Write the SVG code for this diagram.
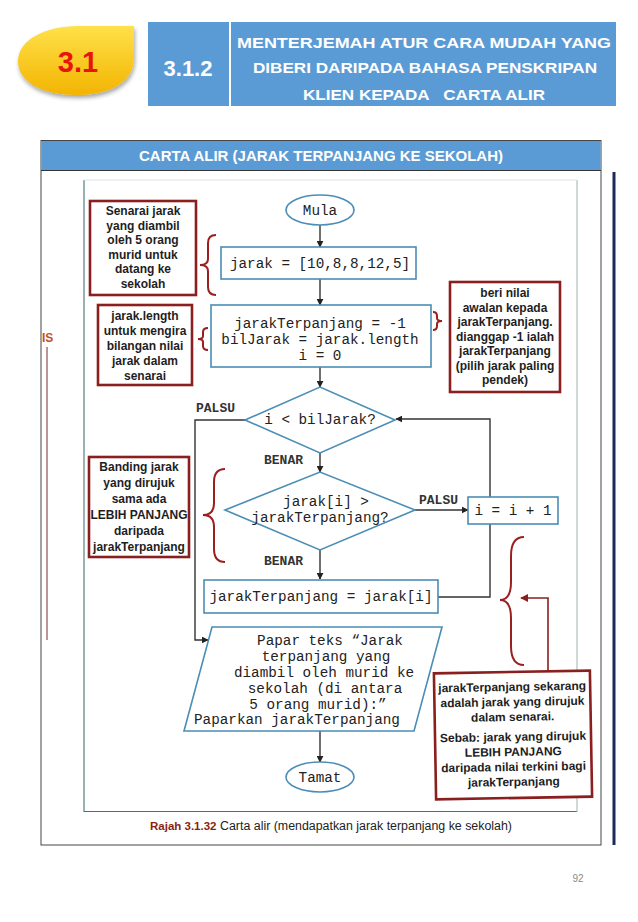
<svg xmlns="http://www.w3.org/2000/svg" width="638" height="922" viewBox="0 0 638 922">
<defs>
<marker id="ah" viewBox="0 0 10 10" refX="9" refY="5" markerWidth="7" markerHeight="7" orient="auto" markerUnits="userSpaceOnUse">
<path d="M0,0 L10,5 L0,10 Z" fill="#222"/>
</marker>
<marker id="ahr" viewBox="0 0 10 10" refX="9" refY="5" markerWidth="8" markerHeight="8" orient="auto" markerUnits="userSpaceOnUse">
<path d="M0,0 L10,5 L0,10 Z" fill="#8a1f1f"/>
</marker>
<linearGradient id="gold" x1="0" y1="0" x2="0" y2="1">
<stop offset="0" stop-color="#ffe14a"/>
<stop offset="1" stop-color="#f3b400"/>
</linearGradient>
<filter id="sh" x="-20%" y="-20%" width="140%" height="150%">
<feDropShadow dx="1" dy="3" stdDeviation="2" flood-color="#000" flood-opacity="0.35"/>
</filter>
</defs>
<style>
.hdr{font-family:"Liberation Sans",Arial,sans-serif;font-weight:bold;fill:#fff;text-anchor:middle}
.shape{fill:#fff;stroke:#4a8db5;stroke-width:1.6}
.code{font-family:"Liberation Mono","Courier New",monospace;font-size:14.3px;fill:#222;text-anchor:middle}
.lbl{font-family:"Liberation Mono","Courier New",monospace;font-size:13px;font-weight:bold;fill:#333}
.conn{fill:none;stroke:#333;stroke-width:1.4}
.note{fill:#fff;stroke:#8a1f1f;stroke-width:2.6}
.nt{font-family:"Liberation Sans",Arial,sans-serif;font-size:12px;font-weight:bold;fill:#1e1e1e;text-anchor:middle}
.brace{fill:none;stroke:#9b1f1f;stroke-width:2}
</style>
<rect width="638" height="922" fill="#fff"/>

<!-- page header -->
<g id="badge">
<path d="M134,26 L134,58 C134,82 110,95 77,95 C42,95 18,82 18,61 C18,40 45,26 78,26 Z" fill="url(#gold)" filter="url(#sh)"/>
<text x="78" y="72" font-family="Liberation Sans,Arial,sans-serif" font-weight="bold" font-size="29" fill="#e8140c" text-anchor="middle">3.1</text>
</g>
<g id="section-no">
<rect x="148" y="22" width="81" height="84" fill="#5b9bd5"/>
<text class="hdr" x="188" y="76" font-size="22">3.1.2</text>
</g>
<g id="section-title">
<rect x="231" y="22" width="385" height="84" fill="#5b9bd5"/>
<text class="hdr" x="424" y="48" font-size="15.5" textLength="374" lengthAdjust="spacingAndGlyphs">MENTERJEMAH ATUR CARA MUDAH YANG</text>
<text class="hdr" x="425" y="73" font-size="15.5" textLength="344" lengthAdjust="spacingAndGlyphs">DIBERI DARIPADA BAHASA PENSKRIPAN</text>
<text class="hdr" x="424" y="100" font-size="15.5" textLength="242" lengthAdjust="spacingAndGlyphs" xml:space="preserve">KLIEN KEPADA   CARTA ALIR</text>
</g>

<!-- panel -->
<g id="panel">
<rect x="41" y="140.5" width="560" height="704.5" fill="#fff" stroke="#444" stroke-width="1"/>
<rect x="41.5" y="141" width="559" height="29" fill="#5b9bd5"/>
<line x1="41" y1="170.5" x2="601" y2="170.5" stroke="#333" stroke-width="1"/>
<text class="hdr" x="321" y="161" font-size="14" textLength="364" lengthAdjust="spacingAndGlyphs">CARTA ALIR (JARAK TERPANJANG KE SEKOLAH)</text>
<!-- scanned page frame -->
<line x1="84" y1="180" x2="84" y2="812" stroke="#587f7f" stroke-width="1.2"/>
<line x1="84" y1="811.5" x2="577" y2="811.5" stroke="#4f6f6a" stroke-width="1.2"/>
<line x1="577" y1="180" x2="577" y2="812" stroke="#9cb3b0" stroke-width="1"/>
<line x1="84" y1="180" x2="577" y2="180" stroke="#dde3e3" stroke-width="1"/>
<line x1="614" y1="172" x2="614" y2="845" stroke="#1d2a5a" stroke-width="3"/>
<text x="42" y="342" font-family="Liberation Sans,Arial,sans-serif" font-weight="bold" font-size="12" fill="#c4501c">IS</text>
<line x1="47" y1="347" x2="47" y2="640" stroke="#7a2a2a" stroke-width="1"/>
<text x="150" y="830" font-family="Liberation Sans,Arial,sans-serif" font-size="11.5" font-weight="bold" fill="#8a1f10">Rajah 3.1.32</text>
<text x="220" y="830" font-family="Liberation Sans,Arial,sans-serif" font-size="12" fill="#222" textLength="292" lengthAdjust="spacingAndGlyphs">Carta alir (mendapatkan jarak terpanjang ke sekolah)</text>
</g>
<text x="578" y="882" font-family="Liberation Sans,Arial,sans-serif" font-size="10" fill="#8a8a8a" text-anchor="middle">92</text>

<!-- connectors -->
<g id="connectors">
<line class="conn" x1="320" y1="224" x2="320" y2="247" marker-end="url(#ah)"/>
<line class="conn" x1="320" y1="279" x2="320" y2="305" marker-end="url(#ah)"/>
<line class="conn" x1="320" y1="367" x2="320" y2="387" marker-end="url(#ah)"/>
<line class="conn" x1="320" y1="453" x2="320" y2="472" marker-end="url(#ah)"/>
<line class="conn" x1="320" y1="550" x2="320" y2="579" marker-end="url(#ah)"/>
<line class="conn" x1="320" y1="731" x2="320" y2="762" marker-end="url(#ah)"/>
<line class="conn" x1="415" y1="510" x2="468" y2="510" marker-end="url(#ah)"/>
<polyline class="conn" points="245,420 195,420 195,640 208,640" marker-end="url(#ah)"/>
<polyline class="conn" points="490,497 490,419 396,419" marker-end="url(#ah)"/>
<polyline class="conn" points="438,597 490,597 490,524"/>
<text class="lbl" x="196" y="412">PALSU</text>
<text class="lbl" x="264" y="464">BENAR</text>
<text class="lbl" x="419" y="504">PALSU</text>
<text class="lbl" x="264" y="565">BENAR</text>
<polyline points="548,672 548,598 521,598" fill="none" stroke="#8a1f1f" stroke-width="1.6" marker-end="url(#ahr)"/>
</g>

<!-- flowchart nodes -->
<g id="mula">
<ellipse class="shape" cx="320" cy="210" rx="34" ry="15"/>
<text class="code" x="320" y="215">Mula</text>
</g>
<g id="init-list">
<rect class="shape" x="221" y="247" width="195" height="32"/>
<text class="code" x="320" y="268">jarak = [10,8,8,12,5]</text>
</g>
<g id="init-vars">
<rect class="shape" x="211" y="305" width="220" height="62"/>
<text class="code" x="320" y="328">jarakTerpanjang = -1</text>
<text class="code" x="320" y="344">bilJarak = jarak.length</text>
<text class="code" x="320" y="360">i = 0</text>
</g>
<g id="cond-loop">
<polygon class="shape" points="245,420 320,387 395,420 320,453"/>
<text class="code" x="320" y="424">i &lt; bilJarak?</text>
</g>
<g id="cond-compare">
<polygon class="shape" points="225,510 320,472 415,510 320,550"/>
<text class="code" x="326" y="506">jarak[i] &gt;</text>
<text class="code" x="320" y="522">jarakTerpanjang?</text>
</g>
<g id="increment">
<rect class="shape" x="468" y="497" width="90" height="27"/>
<text class="code" x="513" y="515">i = i + 1</text>
</g>
<g id="update">
<rect class="shape" x="204" y="580" width="234" height="33"/>
<text class="code" x="321" y="601">jarakTerpanjang = jarak[i]</text>
</g>
<g id="output">
<polygon class="shape" points="212,627 442,627 414,731 184,731"/>
<text class="code" x="330" y="645">Papar teks “Jarak</text>
<text class="code" x="326" y="661">terpanjang yang</text>
<text class="code" x="324" y="677">diambil oleh murid ke</text>
<text class="code" x="325" y="693">sekolah (di antara</text>
<text class="code" x="318" y="709">5 orang murid):”</text>
<text class="code" x="297" y="724">Paparkan jarakTerpanjang</text>
</g>
<g id="tamat">
<ellipse class="shape" cx="320" cy="777" rx="34" ry="15"/>
<text class="code" x="320" y="782">Tamat</text>
</g>

<!-- annotations -->
<g id="note-list">
<rect class="note" x="90" y="201" width="106" height="94"/>
<text class="nt" x="143" y="215">Senarai jarak</text>
<text class="nt" x="143" y="229.5">yang diambil</text>
<text class="nt" x="143" y="244">oleh 5 orang</text>
<text class="nt" x="143" y="258.5">murid untuk</text>
<text class="nt" x="143" y="273">datang ke</text>
<text class="nt" x="143" y="287.5">sekolah</text>
<path class="brace" d="M216,235 Q208,235 208,243 L208,259 Q208,265 200,265 Q208,265 208,271 L208,287 Q208,295 216,295"/>
</g>
<g id="note-length">
<rect class="note" x="98" y="305" width="94" height="80"/>
<text class="nt" x="145" y="320">jarak.length</text>
<text class="nt" x="145" y="335">untuk mengira</text>
<text class="nt" x="145" y="350">bilangan nilai</text>
<text class="nt" x="145" y="365">jarak dalam</text>
<text class="nt" x="145" y="380">senarai</text>
<path class="brace" d="M208,328 Q203,328 203,332 L203,336 Q203,339 198,339 Q203,339 203,342 L203,346 Q203,350 208,350"/>
</g>
<g id="note-init" style="font-size:12.5px">
<rect class="note" x="450" y="282" width="110" height="110"/>
<text class="nt" x="505" y="297" font-size="12.5">beri nilai</text>
<text class="nt" x="505" y="312" font-size="12.5">awalan kepada</text>
<text class="nt" x="505" y="326" font-size="12.5">jarakTerpanjang.</text>
<text class="nt" x="505" y="341" font-size="12.5">dianggap -1 ialah</text>
<text class="nt" x="505" y="355" font-size="12.5">jarakTerpanjang</text>
<text class="nt" x="505" y="370" font-size="12.5">(pilih jarak paling</text>
<text class="nt" x="505" y="384" font-size="12.5">pendek)</text>
<path class="brace" d="M433,312 Q437,312 437,316 L437,318 Q437,321 442,321 Q437,321 437,324 L437,326 Q437,330 433,330"/>
</g>
<g id="note-compare">
<rect class="note" x="89" y="457" width="100" height="100"/>
<text class="nt" x="139" y="471" font-size="11.5">Banding jarak</text>
<text class="nt" x="139" y="487" font-size="11.5">yang dirujuk</text>
<text class="nt" x="139" y="503" font-size="11.5">sama ada</text>
<text class="nt" x="139" y="519" font-size="11.5">LEBIH PANJANG</text>
<text class="nt" x="139" y="535" font-size="11.5">daripada</text>
<text class="nt" x="139" y="551" font-size="11.5">jarakTerpanjang</text>
<path class="brace" d="M225,469 Q214,469 214,482 L214,503 Q214,515 203,515 Q214,515 214,527 L214,549 Q214,562 225,562"/>
</g>
<g id="note-update">
<g transform="rotate(-1 512 735)">
<rect class="note" x="435" y="672" width="156" height="126"/>
<text class="nt" x="513" y="691">jarakTerpanjang sekarang</text>
<text class="nt" x="513" y="706">adalah jarak yang dirujuk</text>
<text class="nt" x="513" y="721">dalam senarai.</text>
<text class="nt" x="513" y="741">Sebab: jarak yang dirujuk</text>
<text class="nt" x="513" y="756">LEBIH PANJANG</text>
<text class="nt" x="513" y="771">daripada nilai terkini bagi</text>
<text class="nt" x="513" y="786">jarakTerpanjang</text>
</g>
<path class="brace" d="M524,537 Q511,537 511,556 L511,582 Q511,600 500,600 Q511,600 511,618 L511,646 Q511,665 524,665"/>
</g>
</svg>
